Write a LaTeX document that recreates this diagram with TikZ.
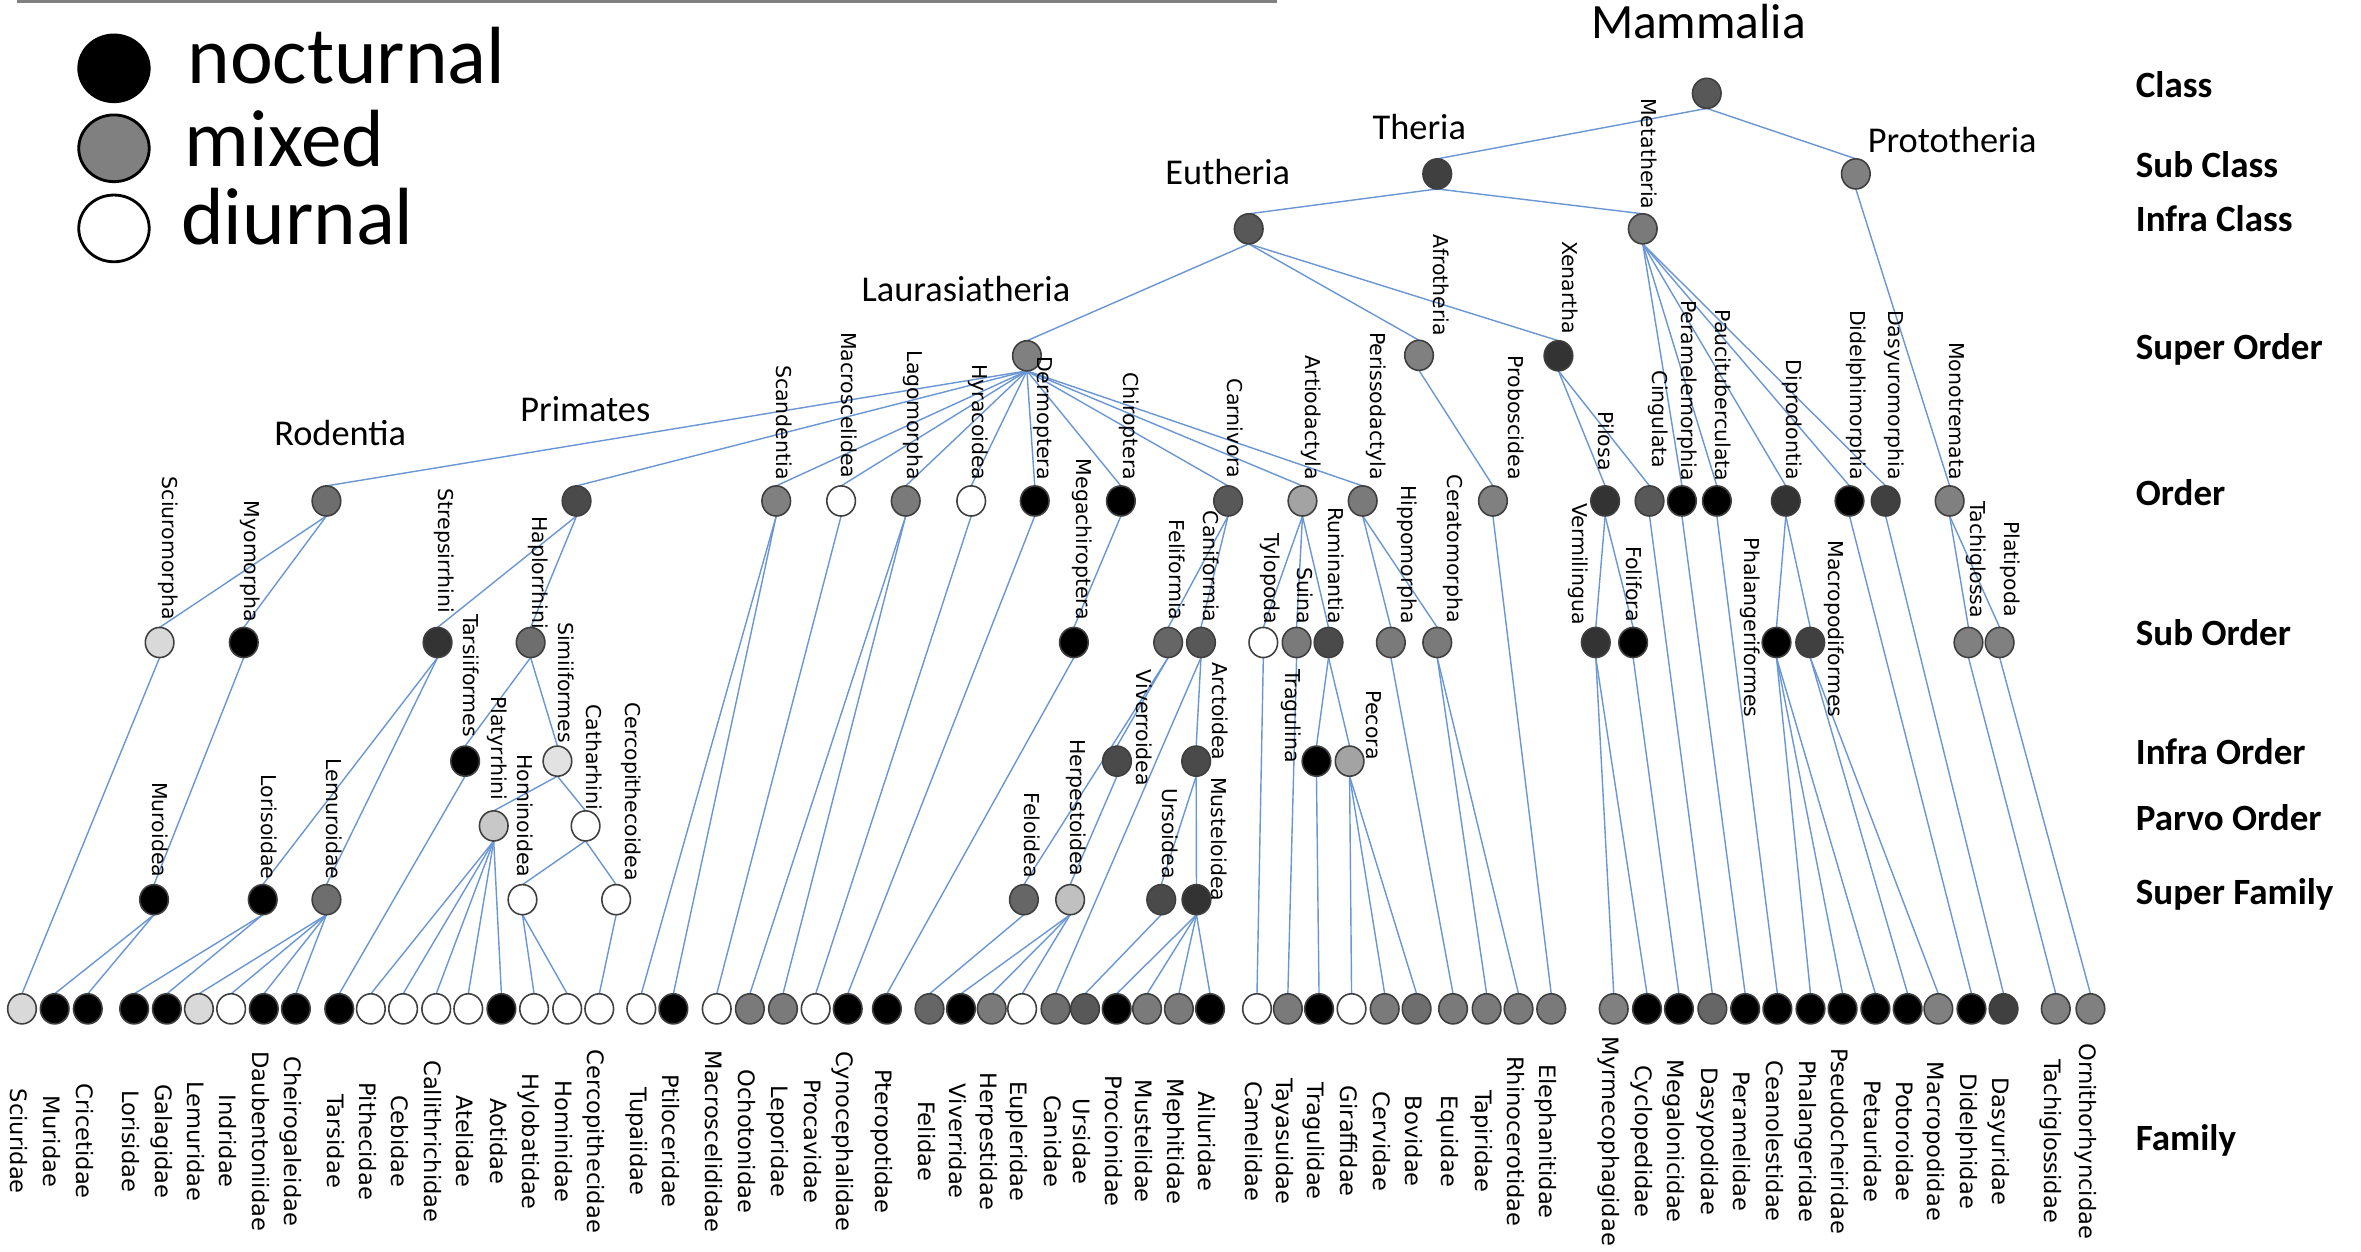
\documentclass[tikz,border=0pt]{standalone}
\usepackage{fontspec}
\newfontfamily\calfont{Carlito}
\newfontfamily\verfont{DejaVu Sans}
\usetikzlibrary{shapes.geometric,backgrounds}
\definecolor{ndline}{HTML}{3F3F3F}
\definecolor{edgecol}{HTML}{6A96D4}
\definecolor{gA}{HTML}{333333}
\definecolor{gB}{HTML}{404040}
\definecolor{gC}{HTML}{4A4A4A}
\definecolor{gD}{HTML}{585858}
\definecolor{gE}{HTML}{666666}
\definecolor{gF}{HTML}{6E6E6E}
\definecolor{gG}{HTML}{7A7A7A}
\definecolor{gH}{HTML}{808080}
\definecolor{gI}{HTML}{A3A3A3}
\definecolor{gJ}{HTML}{C0C0C0}
\definecolor{gK}{HTML}{C8C8C8}
\definecolor{gL}{HTML}{D9D9D9}
\definecolor{gM}{HTML}{E2E2E2}
\newcommand\tn[4]{\node[nd,fill=#4] (#1) at (#2,#3) {};}
\newcommand\vlab[3]{\node[vl] at (#1,#2) {#3};}
\newcommand\famn[3]{\node[nd,fill=#3] (#1) at (#2,670) {};\pgfmathsetmacro\lx{#2-7.5}\node[fl] at (\lx,758) {#1};}
\newcommand\kids[2]{\foreach \k in {#2} {\draw[edge] (#1.south) -- (\k.north);}}
\begin{document}
\begin{tikzpicture}[x=0.015cm,y=-0.015cm,
 nd/.style={ellipse,draw=ndline,line width=0.45pt,minimum width=0.285cm,minimum height=0.3cm,inner sep=0pt,outer sep=0pt},
 edge/.style={draw=edgecol,line width=0.4pt},
 vl/.style={rotate=-90,anchor=base east,inner sep=0pt,font=\verfont\fontsize{5.8}{7}\selectfont},
 fl/.style={rotate=-90,anchor=base,inner sep=0pt,font=\verfont\fontsize{6.4}{7.5}\selectfont},
 hl/.style={anchor=base,inner sep=0pt,font=\calfont\fontsize{10.3}{12}\selectfont},
 rl/.style={anchor=base west,inner sep=0pt,font=\calfont\bfseries\fontsize{10.5}{12}\selectfont},
 lg/.style={ellipse,draw=black,line width=0.8pt,minimum width=0.702cm,minimum height=0.665cm,inner sep=0pt},
 lt/.style={anchor=base west,inner sep=0pt,font=\calfont\fontsize{23}{26}\selectfont}]
\useasboundingbox (0,0) rectangle (1568,831);
% top rule
\coordinate (ruleA) at (11,1); \coordinate (ruleB) at (848,1);
\draw[line width=0.6pt,color=gH] (ruleA) -- (ruleB);
% legend
\node[lg,fill=black] (lgn) at (75.7,45.4) {};
\node[lg,fill=gH] (lgm) at (75.7,98.5) {};
\node[lg,fill=white] (lgd) at (75.7,151.7) {};
\node[lt] at (124,55.3) {nocturnal};
\node[lt] at (122.2,110.7) {mixed};
\node[lt] at (120,162.7) {diurnal};
% rank labels
\node[rl] at (1418,64.5) {Class};
\node[rl] at (1418,118) {Sub Class};
\node[rl] at (1418,154) {Infra Class};
\node[rl] at (1418,239) {Super Order};
\node[rl] at (1418,335.5) {Order};
\node[rl] at (1418,429) {Sub Order};
\node[rl] at (1418,508) {Infra Order};
\node[rl] at (1418,551.5) {Parvo Order};
\node[rl] at (1418,600.5) {Super Family};
\node[rl] at (1418,764) {Family};
% upper nodes
\tn{Mammalia}{1133.5}{62}{gD}
\tn{Theria}{954.5}{115.5}{gB}
\tn{Prototheria}{1232.5}{115.5}{gH}
\tn{Eutheria}{829.3}{152}{gD}
\tn{Metatheria}{1091}{152}{gG}
\tn{Laurasiatheria}{682}{236.3}{gH}
\tn{Afrotheria}{942.4}{236}{gH}
\tn{Xenartha}{1035}{236.3}{gA}
\node[hl,font=\calfont\fontsize{14}{16}\selectfont] at (1128,25.5) {Mammalia};
\node[hl] at (942.6,92.5) {Theria};
\node[hl] at (1296.5,101.4) {Prototheria};
\node[hl] at (815.4,122.4) {Eutheria};
\node[hl] at (641.5,200.4) {Laurasiatheria};
\node[hl] at (225.9,296) {Rodentia};
\node[hl] at (388.7,280) {Primates};
\vlab{1090}{139.5}{Metatheria}
\vlab{952}{223.6}{Afrotheria}
\vlab{1038}{222.5}{Xenartha}
% orders
\tn{Rodentia}{216.8}{332.7}{gF}
\tn{Primates}{382.9}{332.7}{gC}
\tn{Scandentia}{515.5}{332.7}{gH}
\tn{Macroscelidea}{558.6}{332.7}{white}
\tn{Lagomorpha}{601.5}{332.7}{gG}
\tn{Hyracoidea}{645}{332.7}{white}
\tn{Dermoptera}{687.2}{332.7}{black}
\tn{Chiroptera}{744.4}{332.7}{black}
\tn{Carnivora}{815.6}{332.7}{gD}
\tn{Artiodactyla}{865}{332.7}{gI}
\tn{Perissodactyla}{905}{332.7}{gG}
\tn{Proboscidea}{991.5}{332.7}{gH}
\tn{Pilosa}{1066}{332.7}{gA}
\tn{Cingulata}{1095.5}{332.7}{gD}
\tn{Peramelemorphia}{1117}{332.7}{black}
\tn{Paucituberculata}{1140.2}{332.7}{black}
\tn{Diprodontia}{1186}{332.7}{gA}
\tn{Didelphimorphia}{1228.3}{332.7}{black}
\tn{Dasyuromorphia}{1252.3}{332.7}{gB}
\tn{Monotremata}{1294.8}{332.7}{gH}
\vlab{516}{319}{Scandentia}
\vlab{559}{318}{Macroscelidea}
\vlab{603}{319}{Lagomorpha}
\vlab{646}{319.5}{Hyracoidea}
\vlab{689}{319}{Dermoptera}
\vlab{746}{319.5}{Chiroptera}
\vlab{815.5}{318}{Carnivora}
\vlab{867}{319}{Artiodactyla}
\vlab{910}{319}{Perissodactyla}
\vlab{1002}{319}{Proboscidea}
\vlab{1061.5}{313}{Pilosa}
\vlab{1097.5}{311.6}{Cingulata}
\vlab{1117}{320}{Peramelemorphia}
\vlab{1139}{320}{Paucituberculata}
\vlab{1186.5}{319}{Diprodontia}
\vlab{1229}{319}{Didelphimorphia}
\vlab{1254}{319}{Dasyuromorphia}
\vlab{1294.5}{319}{Monotremata}
% sub orders
\tn{Sciuromorpha}{106}{426.7}{gL}
\tn{Myomorpha}{161.9}{426.7}{black}
\tn{Strepsirrhini}{290.6}{426.7}{gA}
\tn{Haplorrhini}{352.4}{426.7}{gF}
\tn{Megachiroptera}{713.2}{426.7}{black}
\tn{Feliformia}{775.8}{426.7}{gE}
\tn{Caniformia}{797.6}{426.7}{gD}
\tn{Tylopoda}{839}{426.7}{white}
\tn{Suina}{861.1}{426.7}{gG}
\tn{Ruminantia}{882.3}{426.7}{gC}
\tn{Hippomorpha}{923.7}{426.7}{gG}
\tn{Ceratomorpha}{954.5}{426.7}{gG}
\tn{Vermilingua}{1059.8}{426.7}{gA}
\tn{Folifora}{1084.6}{426.7}{black}
\tn{Phalangeriformes}{1179.8}{426.7}{black}
\tn{Macropodiformes}{1202.2}{426.7}{gB}
\tn{Tachiglossa}{1307.3}{426.7}{gH}
\tn{Platipoda}{1328}{426.7}{gH}
\vlab{108}{412}{Sciuromorpha}
\vlab{162.5}{413.8}{Myomorpha}
\vlab{291}{407.5}{Strepsirrhini}
\vlab{353.5}{418}{Haplorrhini}
\vlab{715}{412}{Megachiroptera}
\vlab{776.5}{412.5}{Feliformia}
\vlab{799}{413.8}{Caniformia}
\vlab{840}{415}{Tylopoda}
\vlab{861.5}{415}{Suina}
\vlab{882}{415}{Ruminantia}
\vlab{930.5}{415}{Hippomorpha}
\vlab{961.5}{414}{Ceratomorpha}
\vlab{1044}{415.4}{Vermilingua}
\vlab{1080}{413.5}{Folifora}
\vlab{1158.5}{477}{Phalangeriformes}
\vlab{1214.5}{477}{Macropodiformes}
\vlab{1308.5}{411}{Tachiglossa}
\vlab{1331}{410}{Platipoda}
% infra orders
\tn{Tarsiiformes}{308.9}{505.5}{black}
\tn{Simiiformes}{370.2}{505.5}{gM}
\tn{Viverroidea}{741.8}{505.5}{gC}
\tn{Arctoidea}{794.4}{505.5}{gC}
\tn{Tragulina}{874.3}{505.5}{black}
\tn{Pecora}{896.3}{505.5}{gI}
\vlab{308}{490}{Tarsiiformes}
\vlab{371}{494}{Simiiformes}
\vlab{755}{522.5}{Viverroidea}
\vlab{805}{505.5}{Arctoidea}
\vlab{853.5}{507}{Tragulina}
\vlab{907.5}{505}{Pecora}
% parvo orders
\tn{Platyrrhini}{327.9}{548.5}{gK}
\tn{Catarrhini}{388.9}{548.5}{white}
\vlab{326.5}{532}{Platyrrhini}
\vlab{389.5}{538.6}{Catharhini}
% super families
\tn{Muroidea}{102.3}{597.5}{black}
\tn{Lorisoidae}{174.5}{597.5}{black}
\tn{Lemuroidae}{216.8}{597.5}{gF}
\tn{Hominoidea}{347}{597.5}{white}
\tn{Cercopithecoidea}{409.2}{597.5}{white}
\tn{Feloidea}{680}{597.5}{gE}
\tn{Herpestoidea}{710.7}{597.5}{gJ}
\tn{Ursoidea}{771.2}{597.5}{gC}
\tn{Musteloidea}{794.6}{597.5}{gA}
\vlab{101}{583}{Muroidea}
\vlab{173.5}{584.5}{Lorisoidae}
\vlab{217}{584.5}{Lemuroidae}
\vlab{344}{583}{Hominoidea}
\vlab{415.5}{585.6}{Cercopithecoidea}
\vlab{680.5}{583.5}{Feloidea}
\vlab{711}{582.5}{Herpestoidea}
\vlab{772}{584}{Ursoidea}
\vlab{804.5}{599}{Musteloidea}
% families
\famn{Sciuridae}{14.6}{gL}
\famn{Muridae}{36.3}{black}
\famn{Cricetidae}{58.3}{black}
\famn{Lorisidae}{89.1}{black}
\famn{Galagidae}{110.8}{black}
\famn{Lemuridae}{132.1}{gL}
\famn{Indridae}{153.5}{white}
\famn{Daubentoniidae}{175.2}{black}
\famn{Cheirogaleidae}{196.5}{black}
\famn{Tarsidae}{225.3}{black}
\famn{Pithecidae}{246.3}{white}
\famn{Cebidae}{267.7}{white}
\famn{Callithrichidae}{289.7}{white}
\famn{Atelidae}{311}{white}
\famn{Aotidae}{333}{black}
\famn{Hylobatidae}{354.7}{white}
\famn{Hominidae}{376.7}{white}
\famn{Cercopithecidae}{398}{white}
\famn{Tupaiidae}{425.9}{white}
\famn{Ptiloceridae}{447.2}{black}
\famn{Macroscelididae}{476}{white}
\famn{Ochotonidae}{498}{gG}
\famn{Leporidae}{520}{gG}
\famn{Procavidae}{541.7}{white}
\famn{Cynocephalidae}{563}{black}
\famn{Pteropotidae}{589}{black}
\famn{Felidae}{617.3}{gE}
\famn{Viverridae}{638.2}{black}
\famn{Herpestidae}{658.6}{gG}
\famn{Eupleridae}{678.8}{white}
\famn{Canidae}{701}{gF}
\famn{Ursidae}{720.6}{gD}
\famn{Procionidae}{741.6}{black}
\famn{Mustelidae}{761.8}{gG}
\famn{Mephitidae}{782.9}{gG}
\famn{Ailuridae}{803.6}{black}
\famn{Camelidae}{834.8}{white}
\famn{Tayasuidae}{855.3}{gG}
\famn{Tragulidae}{876}{black}
\famn{Giraffidae}{897.6}{white}
\famn{Cervidae}{919.6}{gG}
\famn{Bovidae}{940.8}{gF}
\famn{Equidae}{965}{gG}
\famn{Tapiridae}{987.3}{gG}
\famn{Rhinocerotidae}{1008.5}{gG}
\famn{Elephanitidae}{1030.2}{gG}
\famn{Myrmecophagidae}{1071.7}{gH}
\famn{Cyclopedidae}{1093.8}{black}
\famn{Megalonicidae}{1115}{black}
\famn{Dasypodidae}{1137.2}{gE}
\famn{Peramelidae}{1159}{black}
\famn{Ceanolestidae}{1180.4}{black}
\famn{Phalangeridae}{1202.4}{black}
\famn{Pseudocheiridae}{1223.7}{black}
\famn{Petauridae}{1245.5}{black}
\famn{Potoroidae}{1266.9}{black}
\famn{Macropodidae}{1287.3}{gH}
\famn{Didelphidae}{1309.3}{black}
\famn{Dasyuridae}{1330.6}{gB}
\famn{Tachiglossidae}{1365.3}{gH}
\famn{Ornithorhyncidae}{1388.3}{gH}
% edges
\begin{scope}[on background layer]
\kids{Mammalia}{Theria,Prototheria}
\kids{Theria}{Eutheria,Metatheria}
\kids{Prototheria}{Monotremata}
\kids{Eutheria}{Laurasiatheria,Afrotheria,Xenartha}
\kids{Metatheria}{Peramelemorphia,Paucituberculata,Diprodontia,Didelphimorphia,Dasyuromorphia}
\kids{Laurasiatheria}{Rodentia,Primates,Scandentia,Macroscelidea,Lagomorpha,Hyracoidea,Dermoptera,Chiroptera,Carnivora,Artiodactyla,Perissodactyla}
\kids{Afrotheria}{Proboscidea}
\kids{Xenartha}{Pilosa,Cingulata}
\kids{Rodentia}{Sciuromorpha,Myomorpha}
\kids{Primates}{Strepsirrhini,Haplorrhini}
\kids{Sciuromorpha}{Sciuridae}
\kids{Myomorpha}{Muroidea}
\kids{Muroidea}{Muridae,Cricetidae}
\kids{Strepsirrhini}{Lorisoidae,Lemuroidae}
\kids{Lorisoidae}{Lorisidae,Galagidae}
\kids{Lemuroidae}{Lemuridae,Indridae,Daubentoniidae,Cheirogaleidae}
\kids{Haplorrhini}{Tarsiiformes,Simiiformes}
\kids{Tarsiiformes}{Tarsidae}
\kids{Simiiformes}{Platyrrhini,Catarrhini}
\kids{Platyrrhini}{Pithecidae,Cebidae,Callithrichidae,Atelidae,Aotidae}
\kids{Catarrhini}{Hominoidea,Cercopithecoidea}
\kids{Hominoidea}{Hylobatidae,Hominidae}
\kids{Cercopithecoidea}{Cercopithecidae}
\kids{Scandentia}{Tupaiidae,Ptiloceridae}
\kids{Macroscelidea}{Macroscelididae}
\kids{Lagomorpha}{Ochotonidae,Leporidae}
\kids{Hyracoidea}{Procavidae}
\kids{Dermoptera}{Cynocephalidae}
\kids{Chiroptera}{Megachiroptera}
\kids{Megachiroptera}{Pteropotidae}
\kids{Carnivora}{Feliformia,Caniformia}
\kids{Feliformia}{Viverroidea,Feloidea}
\kids{Viverroidea}{Herpestoidea}
\kids{Feloidea}{Felidae}
\kids{Herpestoidea}{Viverridae,Herpestidae,Eupleridae}
\kids{Caniformia}{Arctoidea,Canidae}
\kids{Arctoidea}{Ursoidea,Musteloidea}
\kids{Ursoidea}{Ursidae}
\kids{Musteloidea}{Procionidae,Mustelidae,Mephitidae,Ailuridae}
\kids{Artiodactyla}{Tylopoda,Suina,Ruminantia}
\kids{Tylopoda}{Camelidae}
\kids{Suina}{Tayasuidae}
\kids{Ruminantia}{Tragulina,Pecora}
\kids{Tragulina}{Tragulidae}
\kids{Pecora}{Giraffidae,Cervidae,Bovidae}
\kids{Perissodactyla}{Hippomorpha,Ceratomorpha}
\kids{Hippomorpha}{Equidae}
\kids{Ceratomorpha}{Tapiridae,Rhinocerotidae}
\kids{Proboscidea}{Elephanitidae}
\kids{Pilosa}{Vermilingua,Folifora}
\kids{Vermilingua}{Myrmecophagidae,Cyclopedidae}
\kids{Folifora}{Megalonicidae}
\kids{Cingulata}{Dasypodidae}
\kids{Peramelemorphia}{Peramelidae}
\kids{Paucituberculata}{Ceanolestidae}
\kids{Diprodontia}{Phalangeriformes,Macropodiformes}
\kids{Phalangeriformes}{Phalangeridae,Pseudocheiridae,Petauridae}
\kids{Macropodiformes}{Potoroidae,Macropodidae}
\kids{Didelphimorphia}{Didelphidae}
\kids{Dasyuromorphia}{Dasyuridae}
\kids{Monotremata}{Tachiglossa,Platipoda}
\kids{Tachiglossa}{Tachiglossidae}
\kids{Platipoda}{Ornithorhyncidae}
\end{scope}
\end{tikzpicture}
\end{document}
